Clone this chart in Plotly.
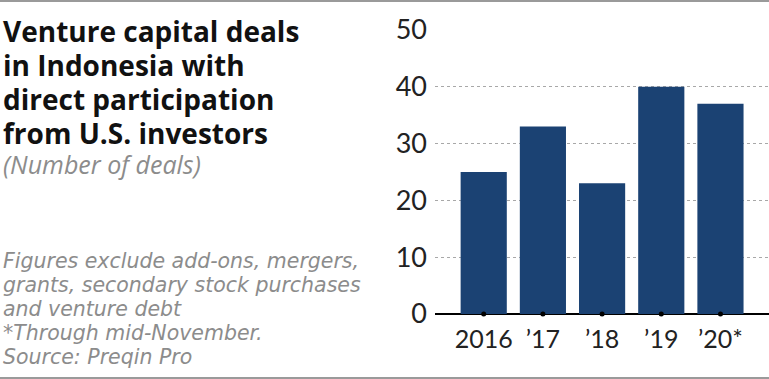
import plotly.graph_objects as go

categories = ["2016", "\u201917", "\u201918", "\u201919", "\u201920*"]
deals = [25, 33, 23, 40, 37]
y_ticks = [0, 10, 20, 30, 40, 50]

title_lines = ["Venture capital deals", "in Indonesia with", "direct participation", "from U.S. investors"]
subtitle = "(Number of deals)"
note_lines = [
    "Figures exclude add-ons, mergers,",
    "grants, secondary stock purchases",
    "and venture debt",
    "*Through mid-November.",
    "Source: Preqin Pro",
]

W, H = 769, 379
BAR = "#1b4273"

fig = go.Figure()
fig.add_trace(go.Bar(x=categories, y=deals, marker=dict(color=BAR, line=dict(width=0)),
                     hoverinfo="skip"))
fig.add_trace(go.Scatter(x=categories, y=[0] * len(categories), mode="markers",
                         marker=dict(color="black", size=5), cliponaxis=False,
                         hoverinfo="skip"))

def py(pix):
    return 1 - pix / H

def block(lines, px, italic=False):
    out = []
    for t in lines:
        s = "<span style='font-size:%spx'>%s</span>" % (px, t)
        out.append("<i>" + s + "</i>" if italic else s)
    return "<br>".join(out)

annotations = [
    # line spacing = 1.3 * annotation font size
    dict(text=block(title_lines, 28), x=2 / W, y=py(11), xref="paper", yref="paper",
         xanchor="left", yanchor="top", align="left", showarrow=False, borderpad=0,
         font=dict(family="Open Sans", size=34 / 1.3, color="#111111", weight="bold")),
    dict(text="<i>" + subtitle + "</i>", x=2 / W, y=py(173 - 0.36 * 25), xref="paper", yref="paper",
         xanchor="left", yanchor="middle", showarrow=False, borderpad=0,
         font=dict(family="Open Sans", size=25, color="#8c8c8c")),
    dict(text=block(note_lines, 20.5, italic=True), x=2 / W, y=py(248), xref="paper", yref="paper",
         xanchor="left", yanchor="top", align="left", showarrow=False, borderpad=0,
         font=dict(family="DejaVu Sans", size=24 / 1.3, color="#8c8c8c")),
]

shapes = [
    dict(type="line", xref="paper", yref="paper", x0=0, x1=1, y0=py(1), y1=py(1),
         line=dict(color="#9a9a9a", width=2)),
    dict(type="line", xref="paper", yref="paper", x0=0, x1=1, y0=py(378), y1=py(378),
         line=dict(color="#9a9a9a", width=2)),
]

fig.update_layout(
    width=W, height=H,
    margin=dict(l=0, r=0, t=0, b=0, autoexpand=False),
    paper_bgcolor="white", plot_bgcolor="white",
    showlegend=False,
    bargap=0.22,
    annotations=annotations,
    shapes=shapes,
    xaxis=dict(domain=[435 / W, 1], range=[-0.823, 4.82], type="category",
               showgrid=False, zeroline=False, showline=False, ticks="",
               automargin=False,
               tickfont=dict(family="Lato", size=25, color="#222222"),
               ticklabelstandoff=8, fixedrange=True),
    yaxis=dict(domain=[py(314), py(30)], range=[0, 50], tickvals=y_ticks,
               showgrid=True, gridcolor="#a8a8a8", gridwidth=1, griddash="dot",
               zeroline=True, zerolinecolor="black", zerolinewidth=1.5,
               showline=False, ticks="", automargin=False,
               tickfont=dict(family="Lato", size=27, color="#222222"),
               ticklabelstandoff=7, fixedrange=True),
)

fig.write_html("out.html", config={"displayModeBar": False},
               post_script="document.body.style.margin='0';document.body.style.overflow='hidden';")
